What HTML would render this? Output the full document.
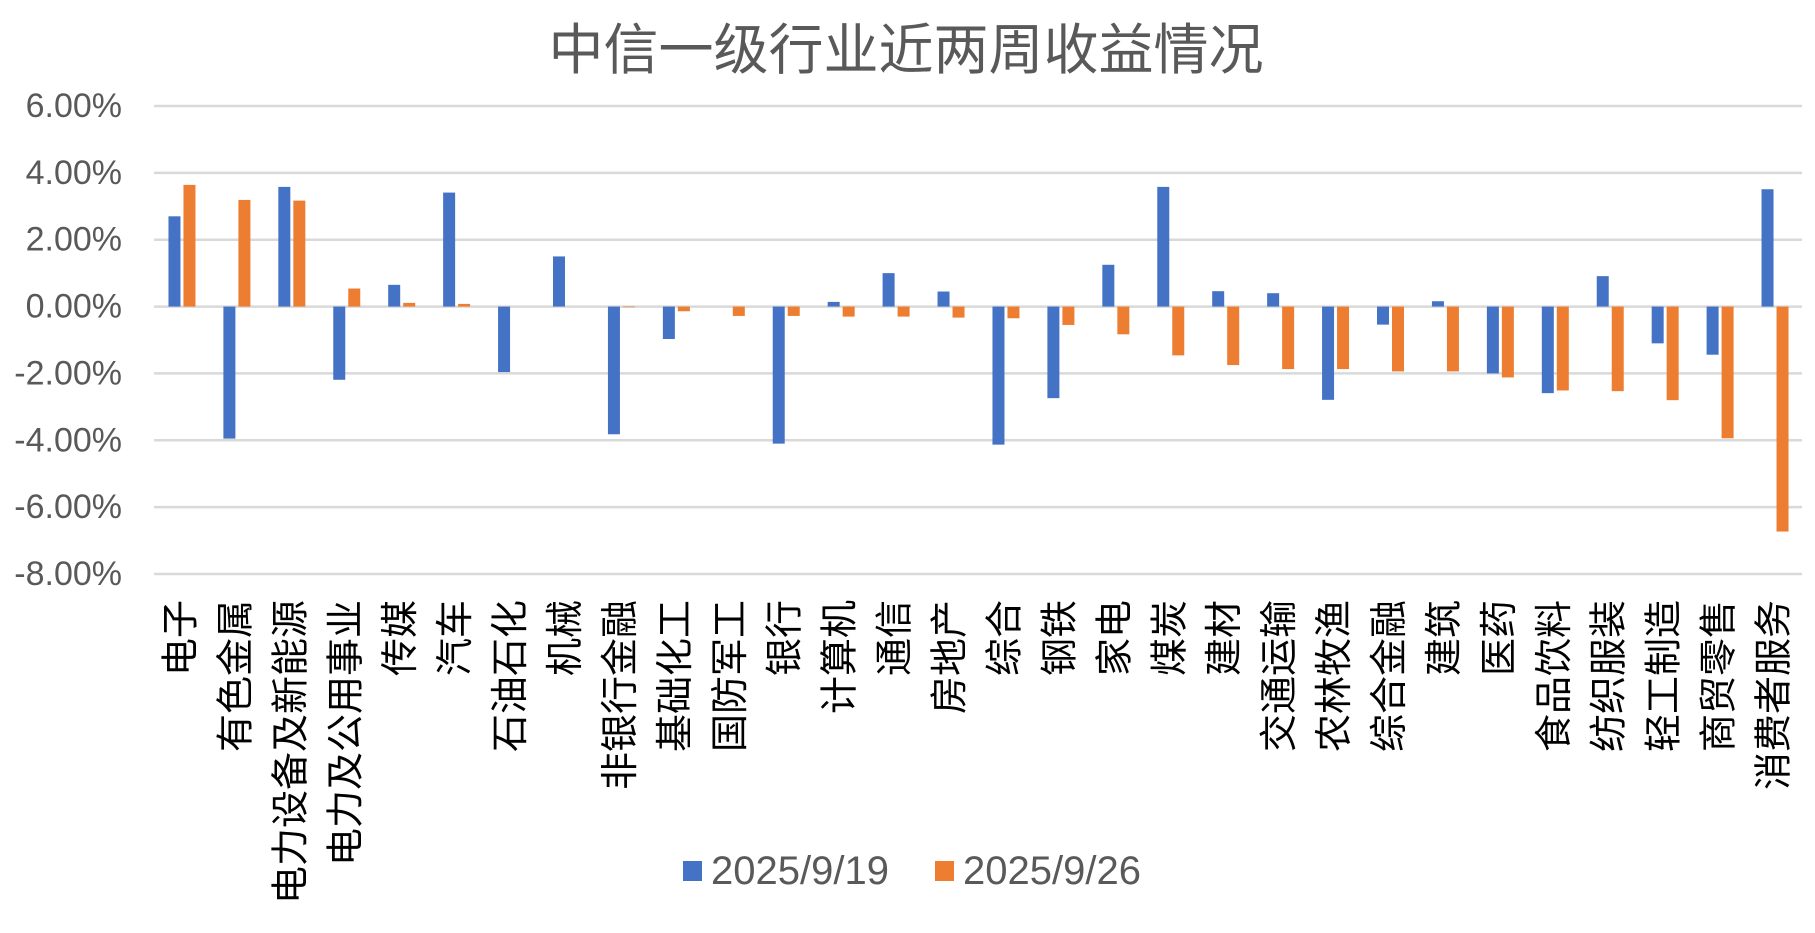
<!DOCTYPE html>
<html><head><meta charset="utf-8"><style>
html,body{margin:0;padding:0;background:#fff;}
svg{display:block;}
</style></head><body>
<svg id="chart" width="1815" height="933" xmlns="http://www.w3.org/2000/svg">
<text x="906" y="50" text-anchor="middle" dominant-baseline="central" font-family="'Liberation Sans','Noto Sans CJK SC',sans-serif" font-size="55" fill="#595959">中信一级行业近两周收益情况</text>
<g id="grid"></g><g id="ylabels"></g><g id="bars"></g><g id="xlabels"></g>
<g>
<rect x="683" y="861" width="19" height="20" fill="#4472C4"/>
<text x="711" y="871" dominant-baseline="central" font-family="'Liberation Sans',sans-serif" font-size="40" fill="#595959">2025/9/19</text>
<rect x="935" y="861" width="19" height="20" fill="#ED7D31"/>
<text x="963" y="871" dominant-baseline="central" font-family="'Liberation Sans',sans-serif" font-size="40" fill="#595959">2025/9/26</text>
</g>
</svg>
<script>
const categories = ["电子","有色金属","电力设备及新能源","电力及公用事业","传媒","汽车","石油石化","机械","非银行金融","基础化工","国防军工","银行","计算机","通信","房地产","综合","钢铁","家电","煤炭","建材","交通运输","农林牧渔","综合金融","建筑","医药","食品饮料","纺织服装","轻工制造","商贸零售","消费者服务"];
const series0919 = [2.70,-3.95,3.58,-2.19,0.65,3.41,-1.96,1.50,-3.82,-0.97,0,-4.10,0.14,1.00,0.45,-4.13,-2.74,1.25,3.58,0.46,0.40,-2.79,-0.54,0.16,-2.00,-2.59,0.91,-1.10,-1.44,3.51];
const series0926 = [3.64,3.19,3.17,0.54,0.11,0.08,0,0,-0.02,-0.14,-0.28,-0.28,-0.30,-0.30,-0.33,-0.35,-0.55,-0.83,-1.46,-1.75,-1.87,-1.87,-1.94,-1.94,-2.12,-2.51,-2.53,-2.80,-3.94,-6.73];
const yTicks = [6,4,2,0,-2,-4,-6,-8];

const NS="http://www.w3.org/2000/svg";
const plotL=154, plotR=1802, yTop=106, yBot=574, vMax=6, vMin=-8;
const y = v => yTop + (vMax - v) / (vMax - vMin) * (yBot - yTop);
const band = (plotR - plotL) / categories.length;
const xc = i => plotL + band * (i + 0.5);
function mk(tag, attrs, parent){const e=document.createElementNS(NS,tag);for(const k in attrs)e.setAttribute(k,attrs[k]);parent.appendChild(e);return e;}
const grid=document.getElementById('grid'), yl=document.getElementById('ylabels'), bars=document.getElementById('bars'), xl=document.getElementById('xlabels');
yTicks.forEach(t=>{
  const l=mk('line',{x1:plotL,x2:plotR,y1:y(t),y2:y(t),stroke:'#d9d9d9','stroke-width':2.5},grid);
  
  
  const tx=mk('text',{x:122,y:y(t),'text-anchor':'end','dominant-baseline':'central','font-family':"'Liberation Sans',sans-serif",'font-size':34,fill:'#595959'},yl);
  tx.textContent=t.toFixed(2)+'%';
  
  
});
function bar(v,x,color,name){
  const y0=y(0), yv=y(v);
  const r=mk('rect',{x:x,y:Math.min(y0,yv),width:12,height:Math.max(Math.abs(yv-y0),0.01),fill:color},bars);
  
  
}
categories.forEach((c,i)=>{
  const cx=xc(i);
  bar(series0919[i],cx-13,'#4472C4','bar-0919');
  bar(series0926[i],cx+2,'#ED7D31','bar-0926');
  const t=mk('text',{x:0,y:0,transform:`translate(${cx},600) rotate(-90)`,'text-anchor':'end','dominant-baseline':'central','font-family':"'Liberation Sans','Noto Sans CJK SC',sans-serif",'font-size':38,fill:'#000'},xl);
  t.textContent=c;
  
  
});
</script>
</body></html>
